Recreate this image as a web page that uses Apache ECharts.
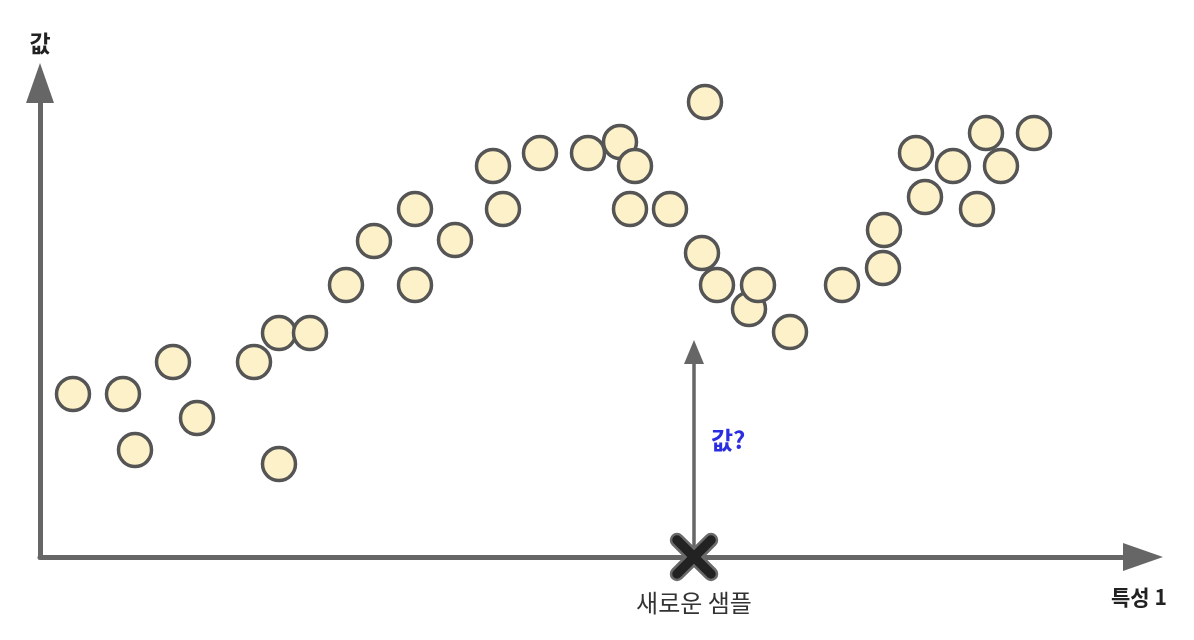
<!DOCTYPE html>
<html>
<head>
<meta charset="utf-8">
<script src="https://cdn.jsdelivr.net/npm/echarts@6/dist/echarts.min.js"></script>
<style>
  html, body { margin: 0; padding: 0; background: #fff; }
  #chart { width: 1194px; height: 640px; }
</style>
</head>
<body>
<div id="chart"></div>
<script>
// 훈련 샘플 (특성 1, 값)
const featureX = [0.33, 0.83, 0.95, 1.33, 1.57, 2.14, 2.39, 2.39, 2.70, 3.06, 3.34, 3.75, 3.75, 4.15,
  4.53, 4.63, 5.00, 5.48, 5.80, 5.95, 5.90, 6.30, 6.65, 6.62, 6.77, 7.09, 7.18, 7.50,
  8.02, 8.43, 8.44, 8.76, 8.85, 9.13, 9.37, 9.46, 9.61, 9.94]
const targetY = [3.26, 3.26, 2.14, 3.90, 2.78, 3.90, 4.48, 1.86, 4.48, 5.44, 6.32, 6.96, 5.44, 6.34,
  7.82, 6.96, 8.08, 8.08, 8.30, 7.82, 6.96, 6.96, 9.10, 6.08, 5.44, 4.96, 5.44, 4.50,
  5.44, 5.78, 6.54, 8.08, 7.20, 7.82, 6.96, 8.48, 7.82, 8.48]

// 새로운 샘플
const newSampleX = 6.54
const newSampleArrowTop = 4.10

const FONT = '"Noto Sans CJK KR", "Noto Sans", sans-serif'
const AXIS_COLOR = '#666'

const chart = echarts.init(document.getElementById('chart'))

const points = featureX.map((x, i) => [x, targetY[i]])

// 끝이 둥근 굵은 X 표시
const crossPath = 'path://M2,0 L5,3 L8,0 A1.414,1.414 0 0 1 10,2 L7,5 L10,8 A1.414,1.414 0 0 1 8,10 ' +
  'L5,7 L2,10 A1.414,1.414 0 0 1 0,8 L3,5 L0,2 A1.414,1.414 0 0 1 2,0 Z'

const option = {
  animation: false,
  grid: { left: 40, right: 51, top: 83, bottom: 83 },
  xAxis: {
    type: 'value',
    min: 0,
    max: 11.03,
    axisLine: {
      show: true,
      symbol: ['none', 'triangle'],
      symbolSize: [28, 40],
      lineStyle: { color: AXIS_COLOR, width: 5 },
    },
    axisTick: { show: false },
    axisLabel: { show: false },
    splitLine: { show: false },
  },
  yAxis: {
    type: 'value',
    min: 0,
    max: 9.48,
    name: '값',
    nameLocation: 'end',
    nameGap: 28,
    nameTextStyle: { fontFamily: FONT, fontSize: 23, fontWeight: 'bold', color: '#222' },
    axisLine: {
      show: true,
      symbol: ['none', 'triangle'],
      symbolSize: [28, 40],
      lineStyle: { color: AXIS_COLOR, width: 5 },
    },
    axisTick: { show: false },
    axisLabel: { show: false },
    splitLine: { show: false },
  },
  series: [
    {
      type: 'scatter',
      data: points,
      symbol: 'circle',
      symbolSize: 33,
      itemStyle: { color: '#fcf1c9', borderColor: '#555', borderWidth: 3.5, opacity: 1 },
      z: 3,
    },
    {
      type: 'line',
      data: [],
      silent: true,
      z: 2,
      markLine: {
        silent: true,
        symbol: ['none', 'triangle'],
        symbolSize: [20, 24],
        label: { show: false },
        lineStyle: { color: AXIS_COLOR, width: 3.5, type: 'solid' },
        data: [[{ coord: [newSampleX, 0] }, { coord: [newSampleX, newSampleArrowTop] }]],
      },
    },
    {
      type: 'scatter',
      data: [[newSampleX, 0]],
      symbol: crossPath,
      symbolSize: 46,
      z: 5,
      itemStyle: { color: '#222', borderColor: '#6a6a6a', borderWidth: 2.5, opacity: 1 },
      label: {
        show: true,
        position: 'bottom',
        distance: 10,
        formatter: '새로운 샘플',
        fontFamily: FONT,
        fontSize: 24,
        color: '#333',
      },
    },
  ],
  graphic: [
    {
      type: 'text',
      left: 1111,
      top: 587,
      style: { text: '특성 1', fontFamily: FONT, fontSize: 21, fontWeight: 'bold', fill: '#222' },
    },
    {
      type: 'text',
      left: 711,
      top: 428,
      style: { text: '값?', fontFamily: FONT, fontSize: 24, fontWeight: 'bold', fill: '#2b2ee0' },
    },
  ],
}

chart.setOption(option)
window.addEventListener('resize', () => chart.resize())
</script>
</body>
</html>
